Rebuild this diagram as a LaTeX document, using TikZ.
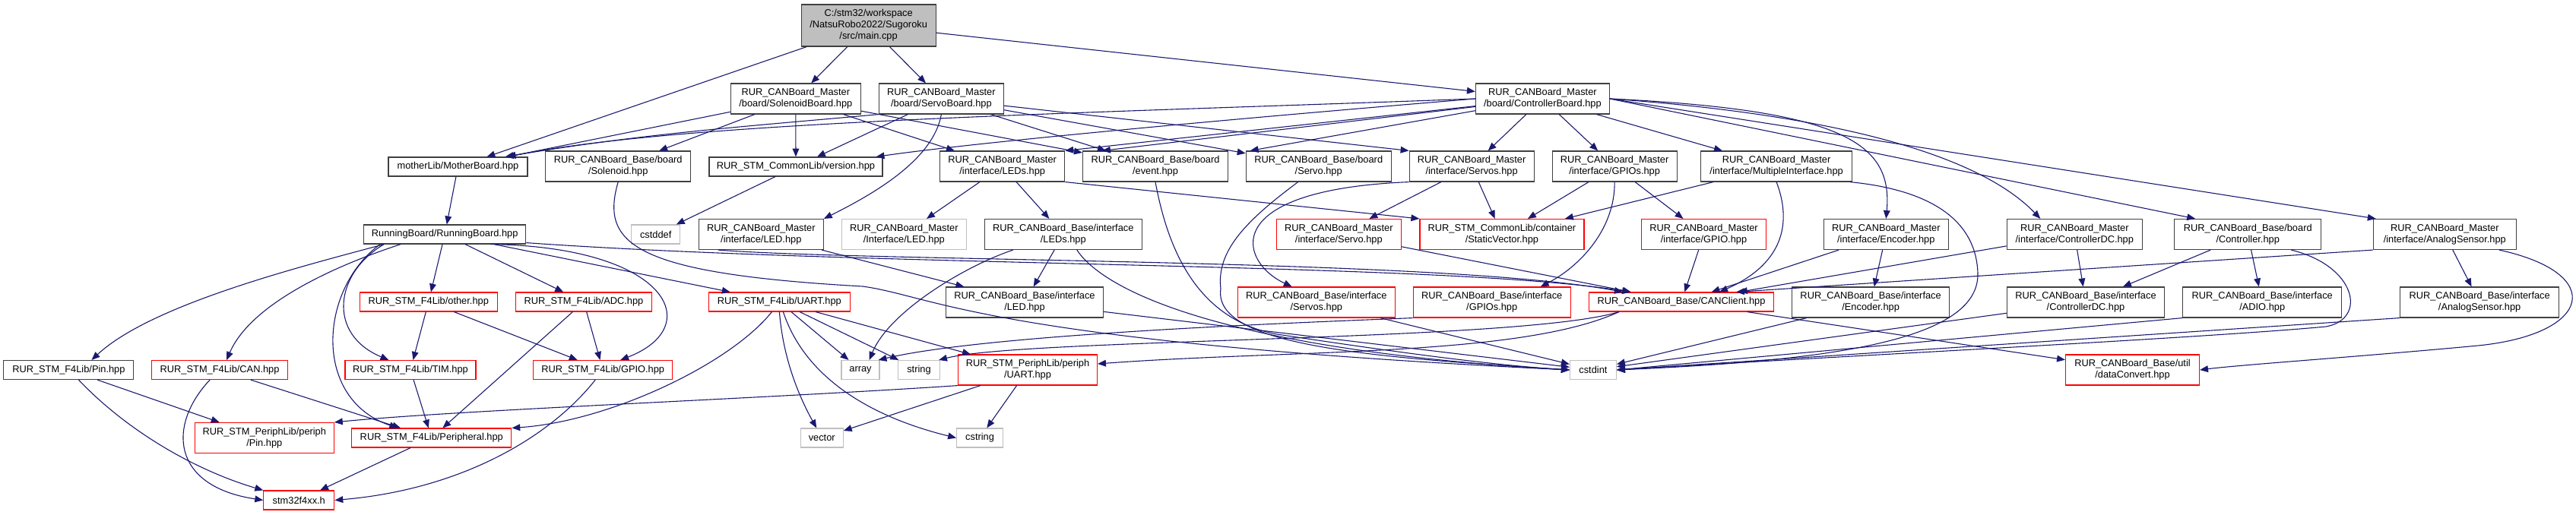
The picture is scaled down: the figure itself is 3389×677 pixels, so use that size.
\documentclass[tikz,border=0pt]{standalone}
\usepackage{fontspec}
\setmainfont{Liberation Sans}
\usetikzlibrary{arrows.meta,calc}
\definecolor{incblue}{HTML}{191970}
\definecolor{boxgray}{HTML}{BFBFBF}
\definecolor{boxdark}{HTML}{404040}
\tikzset{
  file/.style={draw=boxdark, line width=0.9pt, fill=white, inner sep=0pt, align=center, font=\fontsize{10}{11.7}\selectfont},
  redfile/.style={file, draw=red},
  sysfile/.style={file, draw=boxgray},
  one/.style={minimum height=19.5pt},
  two/.style={minimum height=31.2pt},
  wd/.style={minimum width=#1*0.78pt},
  inc/.style={draw=incblue, line width=0.85pt, -{Triangle[length=8.5pt,width=6.8pt]}}
}
\begin{document}
\begin{tikzpicture}[x=0.78pt,y=-0.78pt]
  \useasboundingbox (0,0) rectangle (3389,677);
  % files
  \node[file, fill=boxgray, wd=177, minimum height=42.9pt] (main) at (1142.6,33.5) {C:/stm32/workspace\\/NatsuRobo2022/Sugoroku\\/src/main.cpp};
  \node[file, two, wd=171] (solb) at (1046.8,130) {RUR\_CANBoard\_Master\\/board/SolenoidBoard.hpp};
  \node[file, two, wd=164] (servob) at (1238.4,130) {RUR\_CANBoard\_Master\\/board/ServoBoard.hpp};
  \node[file, two, wd=176] (ctrlb) at (2029.4,130) {RUR\_CANBoard\_Master\\/board/ControllerBoard.hpp};

  \node[file, one, wd=183] (mother) at (602.5,219.5) {motherLib/MotherBoard.hpp};
  \node[file, two, wd=191] (solenoid) at (813.2,219) {RUR\_CANBoard\_Base/board\\/Solenoid.hpp};
  \node[file, one, wd=228] (version) at (1047,219.5) {RUR\_STM\_CommonLib/version.hpp};
  \node[file, two, wd=164] (mleds) at (1318.7,219) {RUR\_CANBoard\_Master\\/interface/LEDs.hpp};
  \node[file, two, wd=191] (event) at (1520,219) {RUR\_CANBoard\_Base/board\\/event.hpp};
  \node[file, two, wd=191] (bservo) at (1734.7,219) {RUR\_CANBoard\_Base/board\\/Servo.hpp};
  \node[file, two, wd=164] (mservos) at (1936.1,219) {RUR\_CANBoard\_Master\\/interface/Servos.hpp};
  \node[file, two, wd=164] (mgpios) at (2124.1,219) {RUR\_CANBoard\_Master\\/interface/GPIOs.hpp};
  \node[file, two, wd=199] (multi) at (2337.1,219) {RUR\_CANBoard\_Master\\/interface/MultipleInterface.hpp};

  \node[file, one, wd=213] (running) at (585.2,308.5) {RunningBoard/RunningBoard.hpp};
  \node[sysfile, one, wd=64] (cstddef) at (862.7,308.5) {cstddef};
  \node[file, two, wd=164] (mled) at (1001.3,308.5) {RUR\_CANBoard\_Master\\/interface/LED.hpp};
  \node[sysfile, two, wd=164] (mledgray) at (1189.3,308.5) {RUR\_CANBoard\_Master\\/Interface/LED.hpp};
  \node[file, two, wd=207] (bleds) at (1398.8,308.5) {RUR\_CANBoard\_Base/interface\\/LEDs.hpp};
  \node[redfile, two, wd=164] (mservo) at (1761.3,308.5) {RUR\_CANBoard\_Master\\/interface/Servo.hpp};
  \node[redfile, two, wd=216] (staticvec) at (1975.9,308.5) {RUR\_STM\_CommonLib/container\\/StaticVector.hpp};
  \node[redfile, two, wd=164] (mgpio) at (2241.5,308.5) {RUR\_CANBoard\_Master\\/interface/GPIO.hpp};
  \node[file, two, wd=164] (mencoder) at (2481.3,308.5) {RUR\_CANBoard\_Master\\/interface/Encoder.hpp};
  \node[file, two, wd=178] (mctrldc) at (2729.3,308.5) {RUR\_CANBoard\_Master\\/interface/ControllerDC.hpp};
  \node[file, two, wd=193] (bcontroller) at (2957.2,308.5) {RUR\_CANBoard\_Base/board\\/Controller.hpp};
  \node[file, two, wd=188] (manalog) at (3216.3,308.5) {RUR\_CANBoard\_Master\\/interface/AnalogSensor.hpp};

  \node[redfile, one, wd=181] (other) at (563.8,397.5) {RUR\_STM\_F4Lib/other.hpp};
  \node[redfile, one, wd=179] (adc) at (768,397.5) {RUR\_STM\_F4Lib/ADC.hpp};
  \node[redfile, one, wd=186] (uart) at (1025.4,397.5) {RUR\_STM\_F4Lib/UART.hpp};
  \node[file, two, wd=207] (bled) at (1348,398) {RUR\_CANBoard\_Base/interface\\/LED.hpp};
  \node[redfile, two, wd=207] (bservos) at (1731.8,398) {RUR\_CANBoard\_Base/interface\\/Servos.hpp};
  \node[redfile, two, wd=207] (bgpios) at (1962.7,398) {RUR\_CANBoard\_Base/interface\\/GPIOs.hpp};
  \node[redfile, one, wd=243] (canclient) at (2212,397.5) {RUR\_CANBoard\_Base/CANClient.hpp};
  \node[file, two, wd=207] (bencoder) at (2461.1,398) {RUR\_CANBoard\_Base/interface\\/Encoder.hpp};
  \node[file, two, wd=207] (bctrldc) at (2744,398) {RUR\_CANBoard\_Base/interface\\/ControllerDC.hpp};
  \node[file, two, wd=209] (badio) at (2976.2,398) {RUR\_CANBoard\_Base/interface\\/ADIO.hpp};
  \node[file, two, wd=209] (banalog) at (3262.1,398) {RUR\_CANBoard\_Base/interface\\/AnalogSensor.hpp};

  \node[file, one, wd=171] (pin) at (90.4,487) {RUR\_STM\_F4Lib/Pin.hpp};
  \node[redfile, one, wd=179] (can) at (289.1,487) {RUR\_STM\_F4Lib/CAN.hpp};
  \node[redfile, one, wd=172] (tim) at (540,487) {RUR\_STM\_F4Lib/TIM.hpp};
  \node[redfile, one, wd=183] (gpio) at (793.2,487) {RUR\_STM\_F4Lib/GPIO.hpp};
  \node[sysfile, one, wd=50] (array) at (1132,487) {array};
  \node[sysfile, one, wd=55] (string) at (1209,487) {string};
  \node[redfile, two, wd=183] (periphuart) at (1352,487) {RUR\_STM\_PeriphLib/periph\\/UART.hpp};
  \node[sysfile, one, wd=61] (cstdint) at (2095.9,487) {cstdint};
  \node[redfile, two, wd=176] (dataconvert) at (2805.5,487) {RUR\_CANBoard\_Base/util\\/dataConvert.hpp};

  \node[redfile, two, wd=183] (periphpin) at (347.8,576.5) {RUR\_STM\_PeriphLib/periph\\/Pin.hpp};
  \node[redfile, one, wd=210] (peripheral) at (567.8,576.5) {RUR\_STM\_F4Lib/Peripheral.hpp};
  \node[sysfile, one, wd=56] (vector) at (1081.2,576.5) {vector};
  \node[sysfile, one, wd=61] (cstring) at (1289.1,576.5) {cstring};
  \node[redfile, one, wd=93] (stm32) at (393.3,658.5) {stm32f4xx.h};

  % includes
  \draw[inc] (main) -- (mother);
  \draw[inc] (main) -- (solb);
  \draw[inc] (main) -- (servob);
  \draw[inc] (main) -- (ctrlb);

  \draw[inc] (solb) -- (mother);
  \draw[inc] (solb) -- (solenoid);
  \draw[inc] (solb) -- (version);
  \draw[inc] (solb) -- (mleds);
  \draw[inc] (solb) -- (event);

  \draw[inc] (servob.south west) .. controls (1000,165) and (850,175) .. ($(mother.north east)+(-30,0)$);
  \draw[inc] (servob) -- (version);
  \draw[inc] (servob.south) .. controls (1228,210) and (1150,255) .. (mled.north east);
  \draw[inc] (servob) -- (event);
  \draw[inc] (servob) -- (bservo);
  \draw[inc] (servob) -- (mservos.north west);

  \draw[inc] (ctrlb.west) .. controls (1400,150) and (900,160) .. ($(mother.north east)+(-27,0)$);
  \draw[inc] (ctrlb.west) .. controls (1700,150) and (1300,185) .. ($(version.north east)+(-9,0)$);
  \draw[inc] (ctrlb) -- (mleds.north east);
  \draw[inc] (ctrlb) -- ($(event.north)+(-70,0)$);
  \draw[inc] (ctrlb) -- ($(bservo.north west)+(6,0)$);
  \draw[inc] (ctrlb) -- (mservos);
  \draw[inc] (ctrlb) -- (mgpios);
  \draw[inc] (ctrlb) -- (multi);
  \draw[inc] (ctrlb.east) .. controls (2430,145) and (2490,190) .. (mencoder.north);
  \draw[inc] (ctrlb.east) .. controls (2400,150) and (2600,200) .. ($(mctrldc.north)+(-45,0)$);
  \draw[inc] (ctrlb.east) -- ($(bcontroller.north west)+(28,0)$);
  \draw[inc] (ctrlb.east) -- ($(manalog.north west)+(4,0)$);

  \draw[inc] (mother) -- (running);
  \draw[inc] (version) -- (cstddef);
  \draw[inc] (mleds) -- (mledgray);
  \draw[inc] (mleds) -- (bleds);
  \draw[inc] (mleds.south east) -- (staticvec.north west);
  \draw[inc] (solenoid.south) .. controls (790,320) and (830,360) .. (1135,377) .. controls (1230,390) and (1300,450) .. (cstdint.west);
  \draw[inc] (event.south) .. controls (1535,320) and (1570,420) .. (1680,440) .. controls (1800,458) and (1950,480) .. (cstdint.west);
  \draw[inc] ($(bservo.south)+(-27,0)$) .. controls (1640,290) and (1600,330) .. (1606,380) .. controls (1595,455) and (1800,470) .. (cstdint.west);
  \draw[inc] (mservos) -- (mservo);
  \draw[inc] (mservos) -- (staticvec);
  \draw[inc] (mservos.south west) .. controls (1600,250) and (1630,345) .. ($(bservos.north west)+(72,0)$);
  \draw[inc] (mgpios) -- (staticvec);
  \draw[inc] (mgpios) -- (mgpio);
  \draw[inc] (mgpios.south) .. controls (2125,300) and (2080,350) .. ($(bgpios.north east)+(-40,0)$);
  \draw[inc] (multi) -- (staticvec);
  \draw[inc] (multi.south) .. controls (2360,300) and (2340,350) .. ($(canclient.north east)+(-72,0)$);
  \draw[inc] (multi.-12) .. controls (2540,250) and (2600,290) .. (2602,360) .. controls (2604,450) and (2400,475) .. (cstdint.east);

  \draw[inc] (mled) -- (bled);
  \draw[inc] ($(mled.south west)+(26,0)$) .. controls (1150,345) and (1900,340) .. ($(canclient.north west)+(45,0)$);
  \draw[inc] (bleds) -- (bled);
  \draw[inc] ($(bleds.south west)+(38,0)$) .. controls (1270,350) and (1170,410) .. ($(array.north east)+(-14,0)$);
  \draw[inc] ($(bleds.south)+(18,0)$) .. controls (1450,380) and (1600,460) .. (cstdint.west);
  \draw[inc] (bled) -- (cstdint);
  \draw[inc] (mservo) -- (canclient);
  \draw[inc] (mgpio) -- (canclient);
  \draw[inc] (mencoder) -- (canclient);
  \draw[inc] (mencoder) -- (bencoder);
  \draw[inc] (mctrldc) -- (canclient);
  \draw[inc] (mctrldc) -- (bctrldc);
  \draw[inc] (bcontroller) -- (bctrldc);
  \draw[inc] (bcontroller) -- (badio);
  \draw[inc] ($(bcontroller.south east)+(-40,0)$) .. controls (3100,350) and (3115,420) .. (3060,430) .. controls (2900,445) and (2400,470) .. (cstdint.east);
  \draw[inc] (manalog.south west) -- ($(canclient.north east)+(-50,0)$);
  \draw[inc] (manalog) -- (banalog);
  \draw[inc] ($(manalog.south east)+(-23,0)$) .. controls (3430,360) and (3410,440) .. (3260,455) .. controls (3100,470) and (2950,480) .. (dataconvert.east);

  \draw[inc] (bservos) -- (cstdint);
  \draw[inc] (bencoder) -- (cstdint);
  \draw[inc] (bctrldc) -- (cstdint);
  \draw[inc] (badio.south west) -- (cstdint.east);
  \draw[inc] (banalog.south west) -- (cstdint.east);
  \draw[inc] (canclient) -- (dataconvert);
  \draw[inc] ($(canclient.south west)+(40,0)$) .. controls (2000,450) and (1350,445) .. ($(string.north east)+(-2,0)$);
  \draw[inc] ($(canclient.south west)+(40,0)$) .. controls (2000,470) and (1700,460) .. ($(periphuart.east)+(0,-8)$);
  \draw[inc] (bgpios.south west) .. controls (1700,425) and (1300,440) .. ($(array.north east)+(-2,0)$);

  \draw[inc] (running) -- (other);
  \draw[inc] (running) -- (adc);
  \draw[inc] (running) -- (uart);
  \draw[inc] ($(running.south east)+(-47,0)$) .. controls (880,325) and (930,430) .. ($(gpio.north)+(23,0)$);
  \draw[inc] ($(running.south west)+(27,0)$) .. controls (400,350) and (200,400) .. ($(pin.north east)+(-56,0)$);
  \draw[inc] ($(running.south)+(-58,0)$) .. controls (440,350) and (330,400) .. ($(can.north)+(9,0)$);
  \draw[inc] ($(running.south west)+(27,0)$) .. controls (440,360) and (430,440) .. ($(tim.north west)+(58,0)$);
  \draw[inc] ($(running.south west)+(22,0)$) .. controls (420,380) and (410,525) .. ($(peripheral.north west)+(61,0)$);
  \draw[inc] ($(running.south east)+(0,-2)$) .. controls (1150,352) and (1900,345) .. ($(canclient.north west)+(55,0)$);

  \draw[inc] (other) -- (tim);
  \draw[inc] (other) -- (gpio);
  \draw[inc] (adc) -- (gpio);
  \draw[inc] (adc) -- (peripheral);
  \draw[inc] (tim) -- (peripheral);
  \draw[inc] ($(gpio.south)+(-10,0)$) .. controls (720,580) and (600,645) .. (stm32.east);
  \draw[inc] ($(uart.south)+(-10,0)$) .. controls (960,480) and (800,555) .. (peripheral.north east);
  \draw[inc] (uart.south) .. controls (1030,470) and (1050,520) .. ($(vector.north)+(-7,0)$);
  \draw[inc] (uart) -- (array);
  \draw[inc] ($(uart.south)+(5,0)$) .. controls (1060,500) and (1150,550) .. (cstring.west);
  \draw[inc] (uart) -- (string);
  \draw[inc] (uart) -- (periphuart);
  \draw[inc] (pin) -- (periphpin);
  \draw[inc] ($(pin.south)+(13,0)$) .. controls (170,570) and (260,620) .. (stm32.north west);
  \draw[inc] (can) -- (peripheral);
  \draw[inc] ($(can.south)+(-13,0)$) .. controls (220,560) and (225,640) .. (stm32.west);
  \draw[inc] (peripheral) -- (stm32);
  \draw[inc] (periphuart.south west) .. controls (1000,525) and (600,540) .. (periphpin.north east);
  \draw[inc] (periphuart) -- (vector);
  \draw[inc] (periphuart) -- (cstring);
\end{tikzpicture}
\end{document}
